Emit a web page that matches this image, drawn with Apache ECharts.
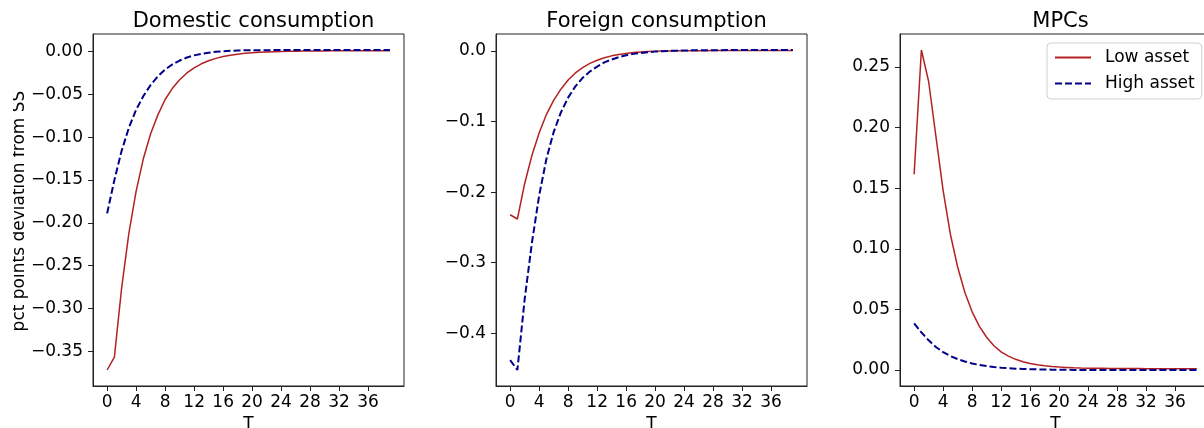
<!DOCTYPE html>
<html>
<head>
<meta charset="utf-8">
<script src="https://cdn.jsdelivr.net/npm/echarts@6/dist/echarts.min.js"></script>
<style>
html,body{margin:0;padding:0;background:#fff;}
#chart{width:1204px;height:428px;}
</style>
</head>
<body>
<div id="chart"></div>
<script>
// ---- data ----
const T = [0,1,2,3,4,5,6,7,8,9,10,11,12,13,14,15,16,17,18,19,20,21,22,23,24,25,26,27,28,29,30,31,32,33,34,35,36,37,38,39];
const seriesNames = ['Low asset', 'High asset'];
const titles = ['Domestic consumption', 'Foreign consumption', 'MPCs'];
const yAxisTitle = 'pct points deviation from SS';
const xAxisTitle = 'T';

const domLow = [-0.372,-0.357,-0.276,-0.212,-0.163,-0.125,-0.096,-0.074,-0.056,-0.043,-0.033,-0.025,-0.019,-0.0143,-0.0107,-0.008,-0.0059,-0.0043,-0.0031,-0.0021,-0.0014,-0.0008,-0.0004,-0.0001,0.0001,0.0003,0.0004,0.0005,0.0006,0.0007,0.0007,0.0008,0.0008,0.0009,0.0009,0.0009,0.001,0.001,0.001,0.001];
const domHigh = [-0.189,-0.150,-0.116,-0.089,-0.068,-0.052,-0.039,-0.029,-0.021,-0.015,-0.0105,-0.007,-0.0045,-0.0027,-0.0013,-0.0003,0.0004,0.0009,0.0012,0.0014,0.0015,0.0016,0.0016,0.0017,0.0017,0.0017,0.0017,0.0018,0.0018,0.0018,0.0018,0.0018,0.0018,0.0018,0.0018,0.0018,0.0018,0.0018,0.0018,0.0018];
const forLow = [-0.232,-0.238,-0.188,-0.148,-0.116,-0.090,-0.070,-0.054,-0.041,-0.031,-0.0235,-0.0175,-0.013,-0.0095,-0.0068,-0.0048,-0.0033,-0.0022,-0.0014,-0.0008,-0.0003,0.0,0.0002,0.0003,0.0004,0.0005,0.0006,0.0006,0.0007,0.0007,0.0007,0.0008,0.0008,0.0008,0.0008,0.0008,0.0008,0.0008,0.0008,0.0008];
const forHigh = [-0.438,-0.452,-0.352,-0.272,-0.205,-0.153,-0.115,-0.087,-0.066,-0.050,-0.038,-0.029,-0.022,-0.016,-0.012,-0.0085,-0.006,-0.004,-0.0027,-0.0016,-0.0008,-0.0002,0.0003,0.0006,0.0008,0.001,0.0011,0.0012,0.0013,0.0013,0.0014,0.0014,0.0014,0.0015,0.0015,0.0015,0.0015,0.0015,0.0015,0.0015];
const mpcLow = [0.1615,0.264,0.238,0.193,0.148,0.112,0.085,0.064,0.048,0.036,0.027,0.020,0.015,0.0115,0.0088,0.0068,0.0054,0.0043,0.0035,0.0029,0.0024,0.0021,0.0018,0.0016,0.0015,0.0014,0.0014,0.0013,0.0013,0.0012,0.0012,0.0012,0.0011,0.0011,0.0011,0.0011,0.001,0.001,0.001,0.001];
const mpcHigh = [0.0385,0.031,0.0245,0.019,0.0148,0.0115,0.009,0.007,0.0054,0.0042,0.0032,0.0025,0.0019,0.0015,0.0011,0.0009,0.0007,0.0005,0.0004,0.0003,0.0002,0.0002,0.0001,0.0001,0.0001,0.0001,0.0001,0.0,0.0,0.0,0.0,0.0,0.0,0.0,0.0,0.0,0.0,0.0,0.0,0.0];

const xTicks = [0,4,8,12,16,20,24,28,32,36];
const yTicksDom = [-0.35,-0.30,-0.25,-0.20,-0.15,-0.10,-0.05,0.00];
const yTicksFor = [-0.4,-0.3,-0.2,-0.1,0.0];
const yTicksMpc = [0.00,0.05,0.10,0.15,0.20,0.25];

// ---- layout / style ----
const FONT = 'DejaVu Sans';
const RED = '#b22222';
const BLUE = '#00008b';
const gridLefts = [93, 496, 900];
const GRID_TOP = 34, GRID_W = 311, GRID_H = 352;

const panels = [
  {low: domLow, high: domHigh, ticks: yTicksDom, dec: 2},
  {low: forLow, high: forHigh, ticks: yTicksFor, dec: 1},
  {low: mpcLow, high: mpcHigh, ticks: yTicksMpc, dec: 2}
];

function pairs(vals) { return T.map((t, i) => [t, vals[i]]); }
function limits(a, b) {
  const all = a.concat(b);
  const lo = Math.min.apply(null, all), hi = Math.max.apply(null, all);
  const pad = (hi - lo) * 0.05;
  return [lo - pad, hi + pad];
}
function fmt(v, d) {
  let s = Math.abs(v) < 1e-9 ? (0).toFixed(d) : v.toFixed(d);
  return s.replace('-', '\u2212');
}
const xPad = (T[T.length - 1] - T[0]) * 0.05;

const grids = [], xAxes = [], yAxes = [], series = [], titleArr = [];
panels.forEach((p, k) => {
  grids.push({left: gridLefts[k], top: GRID_TOP, width: GRID_W, height: GRID_H,
    outerBoundsMode: 'none', containLabel: false,
    show: true, borderColor: '#222', borderWidth: 1, backgroundColor: 'transparent'});
  titleArr.push({text: titles[k], left: gridLefts[k] + GRID_W / 2, top: 6, textAlign: 'center',
    textStyle: {fontFamily: FONT, fontSize: 21, fontWeight: 'normal', color: '#000'}});
  xAxes.push({type: 'value', gridIndex: k, min: T[0] - xPad, max: T[T.length - 1] + xPad,
    name: xAxisTitle, nameLocation: 'middle', nameGap: 29,
    nameTextStyle: {fontFamily: FONT, fontSize: 17, color: '#000'},
    axisLine: {show: true, onZero: false, lineStyle: {color: '#222', width: 1}},
    axisTick: {show: true, length: 5, customValues: xTicks, lineStyle: {color: '#222'}},
    axisLabel: {customValues: xTicks, margin: 8, fontFamily: FONT, fontSize: 17, color: '#000',
      formatter: v => String(v)},
    splitLine: {show: false}});
  const lim = limits(p.low, p.high);
  yAxes.push({type: 'value', gridIndex: k, min: lim[0], max: lim[1],
    axisLine: {show: true, onZero: false, lineStyle: {color: '#222', width: 1}},
    axisTick: {show: true, length: 5, customValues: p.ticks, lineStyle: {color: '#222'}},
    axisLabel: {customValues: p.ticks, margin: 10, fontFamily: FONT, fontSize: 17, color: '#000',
      formatter: v => fmt(v, p.dec)},
    splitLine: {show: false}});
  series.push({type: 'line', name: seriesNames[0], xAxisIndex: k, yAxisIndex: k,
    data: pairs(p.low), showSymbol: false, symbol: 'none', silent: true,
    lineStyle: {color: RED, width: 1.5}, itemStyle: {color: RED}, z: 3});
  series.push({type: 'line', name: seriesNames[1], xAxisIndex: k, yAxisIndex: k,
    data: pairs(p.high), showSymbol: false, symbol: 'none', silent: true,
    lineStyle: {color: BLUE, width: 2, type: [7, 3]}, itemStyle: {color: BLUE}, z: 4});
});

const chart = echarts.init(document.getElementById('chart'), null, {renderer: 'canvas'});
chart.setOption({
  animation: false,
  backgroundColor: '#fff',
  title: titleArr,
  grid: grids,
  xAxis: xAxes,
  yAxis: yAxes,
  series: series,
  legend: {
    data: seriesNames, orient: 'vertical', left: 1047, top: 43,
    padding: [6, 7, 7, 7], itemWidth: 36, itemHeight: 14, itemGap: 9,
    itemStyle: {opacity: 0},
    backgroundColor: '#fff', borderColor: '#d0d0d0', borderWidth: 1, borderRadius: 4,
    textStyle: {fontFamily: FONT, fontSize: 17, color: '#000', padding: [0, 0, 0, 9]},
    selectedMode: false
  },
  graphic: [
    {type: 'text', x: 20, y: 211, rotation: Math.PI / 2, z: 10,
      style: {text: yAxisTitle, fontFamily: FONT, fontSize: 17, fill: '#000',
        textAlign: 'center', textVerticalAlign: 'middle'}},
    {type: 'rect', x: 0, y: 60, z: 11, shape: {x: 0, y: 0, width: 13, height: 300},
      style: {fill: '#fff'}}
  ]
});
</script>
</body>
</html>
